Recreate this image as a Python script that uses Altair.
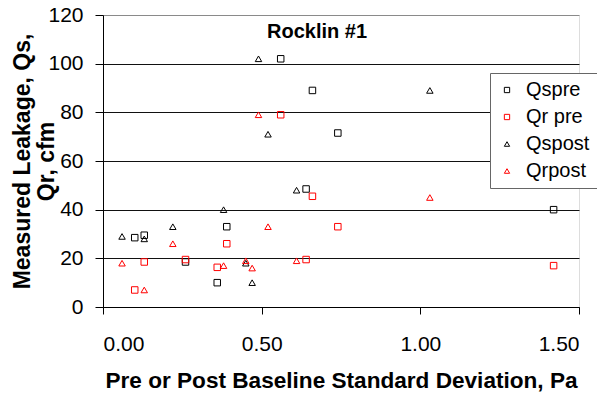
import altair as alt
import pandas as pd

# Data
qspre_x = [0.10, 0.13, 0.26, 0.36, 0.39, 0.56, 0.64, 0.66, 0.74, 1.42]
qspre_y = [28.5, 29.5, 18.5, 10.0, 33.0, 102.0, 48.5, 89.0, 71.5, 40.0]

qrpre_x = [0.10, 0.13, 0.26, 0.36, 0.39, 0.56, 0.64, 0.66, 0.74, 1.42]
qrpre_y = [7.0, 18.5, 19.5, 16.3, 26.0, 79.0, 19.5, 45.5, 33.0, 17.0]

qspost_x = [0.06, 0.13, 0.22, 0.38, 0.45, 0.47, 0.49, 0.52, 0.61, 1.03]
qspost_y = [29.0, 28.0, 33.0, 40.0, 18.0, 10.0, 102.0, 71.0, 48.0, 89.0]

qrpost_x = [0.06, 0.13, 0.22, 0.38, 0.45, 0.47, 0.49, 0.52, 0.61, 1.03]
qrpost_y = [18.0, 7.0, 26.0, 17.0, 19.0, 16.0, 79.0, 33.0, 19.0, 45.0]

series_names = ["Qspre", "Qr pre", "Qspost", "Qrpost"]
series_colors = ["#000000", "#FF0000", "#000000", "#FF0000"]
series_shapes = ["square", "square", "triangle-up", "triangle-up"]

x_ticks = [0, 0.5, 1.0, 1.5]
y_ticks = [0, 20, 40, 60, 80, 100, 120]

rows = []
for name, xs, ys in zip(series_names,
                        [qspre_x, qrpre_x, qspost_x, qrpost_x],
                        [qspre_y, qrpre_y, qspost_y, qrpost_y]):
    for xv, yv in zip(xs, ys):
        rows.append({"series": name, "x": xv, "y": yv})
df = pd.DataFrame(rows)

FONT = "Liberation Sans"

legend_kw = dict(title=None, orient="none", legendX=387, legendY=58,
                 padding=7, rowPadding=7, symbolSize=28, symbolStrokeWidth=1,
                 labelOffset=9, labelFontSize=20, labelFont=FONT,
                 labelColor="#000000", strokeColor="#666666",
                 fillColor="#ffffff")

chart = alt.Chart(df).mark_point(filled=False, size=42, strokeWidth=1, opacity=1).encode(
    x=alt.X("x:Q",
            scale=alt.Scale(domain=[0, 1.5], nice=False, zero=False),
            axis=alt.Axis(values=x_ticks, format=".2f", grid=False,
                          title="Pre or Post Baseline Standard Deviation, Pa",
                          tickSize=7, labelPadding=19, labelFontSize=21,
                          titleFontSize=22.6, titleFontWeight="bold",
                          titleX=238, titleY=80, titleAlign="center",
                          titleBaseline="alphabetic",
                          domainColor="#000000", tickColor="#000000",
                          labelColor="#000000", titleColor="#000000",
                          labelFont=FONT, titleFont=FONT)),
    y=alt.Y("y:Q",
            scale=alt.Scale(domain=[0, 120], nice=False),
            axis=alt.Axis(values=y_ticks, format="d", grid=True,
                          gridColor=alt.condition("datum.value == 120",
                                                  alt.value("#8a8a8a"),
                                                  alt.value("#111111")),
                          gridWidth=1,
                          title=["Measured Leakage, Qs,", "Qr, cfm"],
                          tickSize=8, labelPadding=12, labelFontSize=21,
                          titleFontSize=23, titleFontWeight="bold",
                          titleAngle=-90, titleX=-74, titleY=146,
                          titleAlign="center", titleBaseline="alphabetic",
                          titleLineHeight=24,
                          domainColor="#000000", tickColor="#000000",
                          labelColor="#000000", titleColor="#000000",
                          labelFont=FONT, titleFont=FONT)),
    color=alt.Color("series:N",
                    scale=alt.Scale(domain=series_names, range=series_colors),
                    legend=alt.Legend(**legend_kw)),
    shape=alt.Shape("series:N",
                    scale=alt.Scale(domain=series_names, range=series_shapes),
                    legend=alt.Legend(**legend_kw)),
).properties(
    width=476,
    height=292,
    title=alt.TitleParams(text="Rocklin #1", anchor="start", frame="group",
                          fontSize=20, fontWeight="bold", font=FONT,
                          color="#000000", baseline="alphabetic",
                          offset=-54, dx=164),
    autosize=alt.AutoSizeParams(type="none"),
    padding={"left": 95, "top": 7, "right": 18, "bottom": 87},
).configure_view(
    stroke="#8a8a8a", strokeWidth=1
).configure(background="white")

chart.save("out.html", embed_options={"renderer": "svg", "actions": False})
